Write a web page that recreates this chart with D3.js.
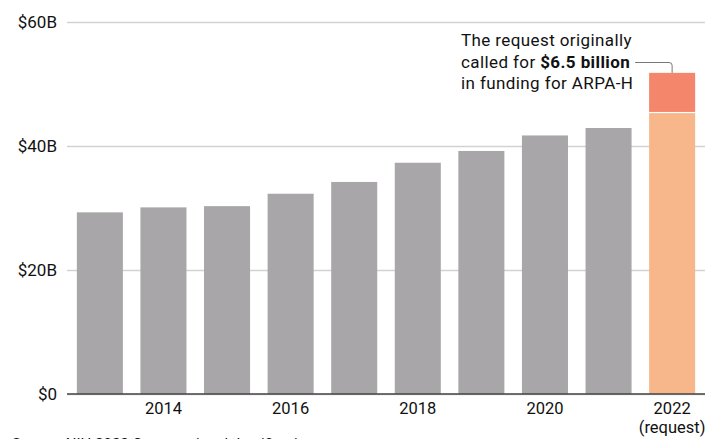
<!DOCTYPE html>
<html>
<head>
<meta charset="utf-8">
<script src="https://cdn.jsdelivr.net/npm/d3@7"></script>
<style>
  body { margin: 0; background: #fff; }
  text { font-family: Roboto, "DejaVu Sans", sans-serif; fill: #111; }
</style>
</head>
<body>
<div id="chart"></div>
<script>
let years = [2013, 2014, 2015, 2016, 2017, 2018, 2019, 2020, 2021, 2022];
let funding = [29.3, 30.1, 30.3, 32.3, 34.2, 37.3, 39.2, 41.7, 42.9, 45.3];
let arpaH = [0, 0, 0, 0, 0, 0, 0, 0, 0, 6.5];
let yTicks = [0, 20, 40, 60];
let xTickYears = [2014, 2016, 2018, 2020, 2022];
let noteLines = ["The request originally", "called for ", "in funding for ARPA-H"];

let svgWidth = 713;
let svgHeight = 439;

let svg = d3.select("#chart")
  .append("svg")
  .attr("width", svgWidth)
  .attr("height", svgHeight);

let x = d3.scaleBand()
  .domain(years)
  .range([67, 705])
  .paddingInner(0.276)
  .paddingOuter(0.155);

let y = d3.scaleLinear()
  .domain([0, 60])
  .range([394, 22]);

// gridlines + y labels
let yAxis = svg.append("g")
  .attr("transform", "translate(67,0)")
  .call(d3.axisLeft(y)
    .tickValues(yTicks)
    .tickSize(-(705 - 67))
    .tickPadding(10)
    .tickFormat(d => d === 0 ? "$0" : `$${d}B`));
yAxis.select(".domain").remove();
yAxis.selectAll(".tick line").attr("stroke", "#d2d2d2").attr("stroke-width", 1.3);
yAxis.selectAll(".tick text")
  .attr("font-size", 17)
  .attr("fill", "#111")
  .style("font-family", "Roboto, sans-serif");

let data = years.map((yr, i) => ({ year: yr, base: funding[i], extra: arpaH[i] }));

// base bars
svg.selectAll("rect.base")
  .data(data)
  .enter()
  .append("rect")
  .attr("class", "base")
  .attr("x", d => x(d.year))
  .attr("y", d => y(d.base))
  .attr("width", x.bandwidth())
  .attr("height", d => y(0) - y(d.base))
  .attr("fill", d => d.extra > 0 ? "#f7b78b" : "#a8a6a9");

// ARPA-H segment
svg.selectAll("rect.extra")
  .data(data.filter(d => d.extra > 0))
  .enter()
  .append("rect")
  .attr("class", "extra")
  .attr("x", d => x(d.year))
  .attr("y", d => y(d.base + d.extra))
  .attr("width", x.bandwidth())
  .attr("height", d => y(d.base) - y(d.base + d.extra) - 1.2)
  .attr("fill", "#f4876b");

// baseline
svg.append("line")
  .attr("x1", 67).attr("x2", 705)
  .attr("y1", y(0)).attr("y2", y(0))
  .attr("stroke", "#444")
  .attr("stroke-width", 1.5);

// x labels
let xAxis = svg.append("g")
  .attr("transform", `translate(0,${y(0)})`)
  .call(d3.axisBottom(x).tickValues(xTickYears).tickSize(0).tickPadding(8));
xAxis.select(".domain").remove();
xAxis.selectAll(".tick text")
  .attr("font-size", 16.5)
  .attr("fill", "#111")
  .style("font-family", "Roboto, sans-serif");

svg.append("text")
  .attr("x", x(2022) + x.bandwidth() / 2)
  .attr("y", 433)
  .attr("text-anchor", "middle")
  .attr("font-size", 16.5)
  .text("(request)");

// annotation
let note = svg.append("text")
  .attr("x", 461)
  .attr("font-size", 17)
  .attr("letter-spacing", 0.4);
note.append("tspan").attr("x", 461).attr("y", 46).text(noteLines[0]);
let l2 = note.append("tspan").attr("x", 461).attr("y", 67.5).text(noteLines[1]);
let bold = note.append("tspan").attr("font-weight", "bold").text("$6.5 billion");
note.append("tspan").attr("x", 461).attr("y", 89).text(noteLines[2]);

let lineStart = 461 + l2.node().getComputedTextLength() + bold.node().getComputedTextLength() + 5;

let last = data[data.length - 1];
let cx = x(last.year) + x.bandwidth() / 2;
let topY = y(last.base + last.extra);
svg.append("path")
  .attr("d", `M${lineStart},62.5 H${cx - 3} Q${cx},62.5 ${cx},65.5 V${topY}`)
  .attr("fill", "none")
  .attr("stroke", "#777")
  .attr("stroke-width", 1);

// source (cut off at the bottom, as in the original)
svg.append("text")
  .attr("x", 12)
  .attr("y", 449)
  .attr("font-size", 15)
  .text("Source: NIH 2022 Congressional Justification");
</script>
</body>
</html>
